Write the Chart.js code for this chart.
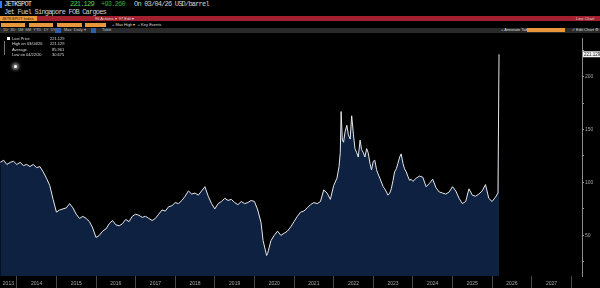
<!DOCTYPE html>
<html>
<head>
<meta charset="utf-8">
<script src="https://cdn.jsdelivr.net/npm/chart.js@4.4.1/dist/chart.umd.min.js"></script>
<style>
  body { margin:0; background:#000; width:600px; height:288px; overflow:hidden; position:relative; font-family:"DejaVu Sans Mono", monospace; }
  .t { position:absolute; white-space:nowrap; line-height:1; }
  .mono { font-family:"Liberation Mono", monospace; font-size:7px; letter-spacing:-0.8px; }
  .tiny { font-family:"Liberation Sans", sans-serif; font-size:4px; color:#ddd; }
  .box { position:absolute; background:#e8973c; }
  #legend div { position:absolute; font-family:"Liberation Sans", sans-serif; font-size:4px; color:#ddd; white-space:nowrap; line-height:1; }
</style>
</head>
<body>
<!-- header row 1 -->
<div style="position:absolute;left:0;top:1px;width:2px;height:7px;background:#2f7df5"></div>
<div class="t mono" style="left:4px;top:1px;color:#e8e8e8">JETKSPOT</div>
<div class="t mono" style="left:70px;top:1px;color:#4fd14f">221.129</div>
<div class="t mono" style="left:101px;top:1px;color:#37a537">+93.260</div>
<div class="t mono" style="left:134px;top:1px;color:#cfcfcf">On 03/04/26 USD/barrel</div>
<!-- row 2 -->
<div class="t mono" style="left:4px;top:9px;color:#d0d0d0">Jet Fuel Singapore FOB Cargoes</div>
<!-- row 3: red bar -->
<div style="position:absolute;left:0;top:16px;width:600px;height:5px;background:#a3202f"></div>
<div class="box" style="left:0;top:16px;width:37px;height:5px"></div>
<div class="t tiny" style="left:2px;top:16.5px;color:#3a1a00">JETKSPOT Index</div>
<div class="t tiny" style="left:95px;top:16.5px">96 Actions &#9662;&nbsp;&nbsp;97 Edit &#9662;</div>
<div class="t tiny" style="left:576px;top:16.5px">Line Chart</div>
<!-- row 4 -->
<div class="box" style="left:1px;top:22.5px;width:24px;height:4.5px"></div>
<div class="box" style="left:29px;top:22.5px;width:24px;height:4.5px"></div>
<div class="box" style="left:57px;top:22.5px;width:25px;height:4.5px"></div>
<div class="box" style="left:85px;top:22.5px;width:21px;height:4.5px"></div>
<div class="t tiny" style="left:112px;top:23px">+ Max High &#9662;&nbsp;&nbsp;+ Key Events</div>
<!-- row 5 -->
<div style="position:absolute;left:0;top:28px;width:600px;height:4.5px;background:#2a2a2a"></div>
<div class="t tiny" style="left:3px;top:28.3px;color:#bbb">1D&nbsp;&nbsp;3D&nbsp;&nbsp;1M&nbsp;&nbsp;6M&nbsp;&nbsp;YTD&nbsp;&nbsp;1Y&nbsp;&nbsp;5Y</div>
<div style="position:absolute;left:55px;top:28px;width:6px;height:4.5px;background:#2d5fb0"></div>
<div class="t tiny" style="left:64px;top:28.3px;color:#bbb">Max&nbsp;&nbsp;Daily &#9662;</div>
<div style="position:absolute;left:91px;top:28px;width:5px;height:4.5px;background:#2d5fb0"></div>
<div class="t tiny" style="left:102px;top:28.3px;color:#bbb">Table</div>
<div class="t tiny" style="left:501px;top:28.3px">+ Annotate Tab</div>
<div class="box" style="left:527px;top:28.3px;width:38px;height:4px"></div>
<div class="t tiny" style="left:572px;top:28.3px">&#10003; Edit Chart &#9881;</div>

<canvas id="chart" width="600" height="254" style="position:absolute;left:0;top:34px"></canvas>

<!-- legend overlay -->
<div id="legend">
  <div style="left:7px;top:37px;width:3px;height:3px;background:#fff"></div>
  <div style="left:4px;top:41px;width:0.5px;height:14px;background:#777"></div>
  <div style="left:12px;top:37px">Last Price</div><div style="left:50px;top:37px">221.129</div>
  <div style="left:12px;top:42px">High on 03/04/26</div><div style="left:50px;top:42px">221.129</div>
  <div style="left:12px;top:47.5px">Average</div><div style="left:52px;top:47.5px">85.961</div>
  <div style="left:12px;top:52.5px">Low on 04/22/20</div><div style="left:52px;top:52.5px">30.675</div>
  <div style="left:13.5px;top:64.5px;width:3px;height:3px;border-radius:50%;background:#fff;box-shadow:0 0 3px 2px rgba(255,255,255,0.5)"></div>
</div>

<script>
const dates = [
  '2013-08','2013-09','2013-10','2013-11','2013-12',
  '2014-01','2014-02','2014-03','2014-04','2014-05','2014-06','2014-07','2014-08','2014-09','2014-10','2014-11','2014-12',
  '2015-01','2015-02','2015-03','2015-04','2015-05','2015-06','2015-07','2015-08','2015-09','2015-10','2015-11','2015-12',
  '2016-01','2016-02','2016-03','2016-04','2016-05','2016-06','2016-07','2016-08','2016-09','2016-10','2016-11','2016-12',
  '2017-01','2017-02','2017-03','2017-04','2017-05','2017-06','2017-07','2017-08','2017-09','2017-10','2017-11','2017-12',
  '2018-01','2018-02','2018-03','2018-04','2018-05','2018-06','2018-07','2018-08','2018-09','2018-10','2018-11','2018-12',
  '2019-01','2019-02','2019-03','2019-04','2019-05','2019-06','2019-07','2019-08','2019-09','2019-10','2019-11','2019-12',
  '2020-01','2020-02','2020-03','2020-03-20','2020-04-22','2020-05','2020-06','2020-07','2020-08','2020-09','2020-10','2020-11','2020-12',
  '2021-01','2021-02','2021-03','2021-04','2021-05','2021-06','2021-07','2021-08','2021-09','2021-10','2021-11','2021-12',
  '2022-01','2022-02','2022-02-20','2022-03','2022-03-09','2022-03-20','2022-04','2022-04-15','2022-05','2022-05-15','2022-06','2022-06-15',
  '2022-07','2022-07-15','2022-08','2022-08-15','2022-09','2022-09-15','2022-10','2022-10-15','2022-11','2022-11-15','2022-12','2022-12-15',
  '2023-01','2023-01-15','2023-02','2023-02-15','2023-03','2023-04','2023-04-15','2023-05','2023-05-15','2023-06','2023-06-15',
  '2023-07','2023-07-15','2023-08','2023-08-15','2023-09','2023-09-15','2023-10','2023-10-15','2023-11','2023-11-15','2023-12','2023-12-15',
  '2024-01','2024-02','2024-03','2024-04','2024-05','2024-06','2024-07','2024-08','2024-09','2024-10','2024-11','2024-12',
  '2025-01','2025-02','2025-03','2025-04','2025-05','2025-06','2025-07','2025-08','2025-09','2025-10','2025-11','2025-12',
  '2026-01','2026-02','2026-02-25','2026-03-04'
];
const prices = [
  119,121,117,119,120,
  117,119,116,117,115,117,114,115,110,104,97,84,
  72,74,75,76,80,76,70,66,68,66,63,57,
  48,50,54,56,61,64,60,59,61,65,63,68,
  70,69,67,68,66,64,66,70,74,73,77,78,
  81,80,83,87,92,89,90,88,92,96,87,80,
  75,80,82,85,83,84,81,79,82,80,81,83,
  82,74,62,45,31,33,45,50,54,50,52,54,58,
  63,68,72,73,76,79,81,80,82,93,90,84,
  97,104,115,128,167,140,138,148,154,145,141,163,
  145,132,128,124,140,131,128,124,132,128,118,112,
  120,121,112,108,104,96,94,91,88,90,94,
  102,110,113,118,124,127,118,113,110,106,102,103,
  101,104,106,105,96,99,103,95,91,90,89,91,
  96,92,85,80,82,94,88,87,89,92,98,85,
  82,86,90,221.129
];
const yearTicks = [2014,2015,2016,2017,2018,2019,2020,2021,2022,2023,2024,2025,2026,2027,2028];
const yearLabels = ['2013','2014','2015','2016','2017','2018','2019','2020','2021','2022','2023','2024','2025','2026','2027'];
const priceTicks = [25,50,75,100,125,150,175,200,225];

function toYear(s) {
  const p = s.split('-').map(Number);
  const day = p[2] || 1;
  return p[0] + (p[1] - 1) / 12 + (day - 1) / 365;
}

const points = dates.map((d, i) => ({ x: toYear(d), y: prices[i] }));

// label positions: centre of each year span (first one is a partial year)
const xMin = 2013.576, xMax = 2028.27;
const labelPos = yearLabels.map((l, i) => i === 0 ? (xMin + 2014) / 2 : Number(l) + 0.5);

const lastLabel = {
  id: 'lastLabel',
  afterDraw(chart) {
    const c = chart.ctx, y = chart.scales.y.getPixelForValue(prices[prices.length - 1]);
    const x = chart.chartArea.right + 1;
    c.save();
    c.fillStyle = '#f2f2f2';
    c.fillRect(x, y - 3, 17, 6);
    c.fillStyle = '#222';
    c.font = '4.5px "Liberation Sans"';
    c.textBaseline = 'middle';
    c.fillText('221.129', x + 1, y + 0.3);
    c.restore();
  }
};

new Chart(document.getElementById('chart'), {
  type: 'line',
  data: {
    datasets: [{
      data: points,
      borderColor: '#e6e6e6',
      borderWidth: 1,
      backgroundColor: '#0e2141',
      fill: 'start',
      pointRadius: 0,
      tension: 0
    }]
  },
  options: {
    responsive: false,
    animation: false,
    devicePixelRatio: 1,
    layout: { padding: 0 },
    plugins: { legend: { display: false }, tooltip: { enabled: false } },
    scales: {
      x: {
        type: 'linear',
        min: xMin,
        max: xMax,
        afterFit: s => { s.height = 12; },
        afterBuildTicks: s => {
          s.ticks = yearTicks.map(v => ({ value: v })).concat(labelPos.map(v => ({ value: v })));
        },
        border: { display: false },
        grid: {
          drawOnChartArea: false,
          tickLength: 12,
          color: ctx => Number.isInteger(ctx.tick && ctx.tick.value) ? '#4a4a4a' : 'rgba(0,0,0,0)'
        },
        ticks: {
          autoSkip: false,
          maxRotation: 0,
          padding: -7,
          color: '#a8a8a8',
          font: { size: 5, family: 'Liberation Sans' },
          callback: v => {
            const i = labelPos.indexOf(v);
            return i >= 0 ? yearLabels[i] : '';
          }
        }
      },
      y: {
        position: 'right',
        min: 11.6,
        max: 236.5,
        afterFit: s => { s.width = 18; },
        afterBuildTicks: s => { s.ticks = priceTicks.map(v => ({ value: v })); },
        border: { display: true, color: '#8a8a8a', width: 1 },
        grid: { drawOnChartArea: false, tickLength: 2, color: '#9a9a9a' },
        ticks: {
          padding: 1,
          color: '#a8a8a8',
          font: { size: 5, family: 'Liberation Sans' },
          callback: v => v % 50 === 0 ? String(v) : ''
        }
      }
    }
  },
  plugins: [lastLabel]
});
</script>
</body>
</html>
